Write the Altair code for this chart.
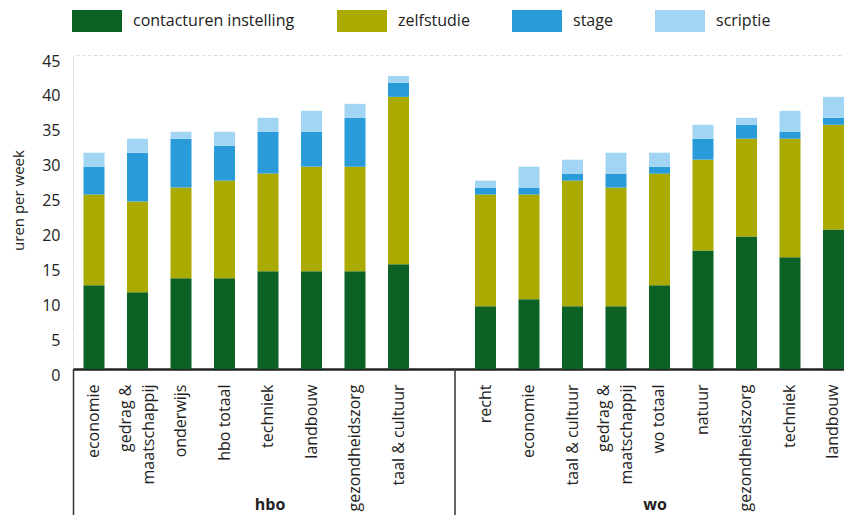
import altair as alt
import pandas as pd

series = ["contacturen instelling", "zelfstudie", "stage", "scriptie"]
colors = ["#0c6124", "#aaaa00", "#289bd8", "#a1d5f3"]

hbo_cats = ["economie", "gedrag &\nmaatschappij", "onderwijs", "hbo totaal", "techniek",
            "landbouw", "gezondheidszorg", "taal & cultuur"]
hbo_contact = [12, 11, 13, 13, 14, 14, 14, 15]
hbo_zelf = [13, 13, 13, 14, 14, 15, 15, 24]
hbo_stage = [4, 7, 7, 5, 6, 5, 7, 2]
hbo_scriptie = [2, 2, 1, 2, 2, 3, 2, 1]

wo_cats = ["recht", "economie", "taal & cultuur", "gedrag &\nmaatschappij", "wo totaal",
           "natuur", "gezondheidszorg", "techniek", "landbouw"]
wo_contact = [9, 10, 9, 9, 12, 17, 19, 16, 20]
wo_zelf = [16, 15, 18, 17, 16, 13, 14, 17, 15]
wo_stage = [1, 1, 1, 2, 1, 3, 2, 1, 1]
wo_scriptie = [1, 3, 2, 3, 2, 2, 1, 3, 3]

rows = []
for grp, cats, vals in [("hbo", hbo_cats, [hbo_contact, hbo_zelf, hbo_stage, hbo_scriptie]),
                        ("wo", wo_cats, [wo_contact, wo_zelf, wo_stage, wo_scriptie])]:
    for i, c in enumerate(cats):
        for k, s in enumerate(series):
            rows.append({"key": f"{grp}:{c}", "serie": s, "o": k, "uren": vals[k][i]})
df = pd.DataFrame(rows)

domain = [f"hbo:{c}" for c in hbo_cats] + ["gap:"] + [f"wo:{c}" for c in wo_cats]

W, H = 771, 314
BOTTOM = 146
FONT = "Open Sans"

bars = alt.Chart(df).mark_bar().encode(
    x=alt.X("key:N", sort=domain,
            scale=alt.Scale(domain=domain, paddingInner=0.5172, paddingOuter=0.1207, align=1, round=False),
            axis=alt.Axis(title=None, labelAngle=270, labelAlign="right", labelBaseline="middle",
                          labelPadding=15, labelFontSize=16, labelColor="#222", labelLimit=300,
                          labelOverlap=False, labelLineHeight=23, ticks=False,
                          labelOffset={"condition": {"test": "indexof(datum.value, '\\n') >= 0", "value": -11.5},
                                       "value": 0},
                          domainColor="#222", domainWidth=2.5,
                          labelExpr="split(slice(datum.label, indexof(datum.label, ':') + 1), '\\n')")),
    y=alt.Y("uren:Q", stack="zero",
            scale=alt.Scale(domain=[0, 45], nice=False),
            axis=alt.Axis(title="uren per week", values=list(range(0, 46, 5)), ticks=False, domain=False,
                          grid=True, gridColor="white", gridDash=[2.5, 3.5], gridWidth=2.5,
                          labelFontSize=16, labelColor="#222", labelPadding=13, labelOffset=6,
                          titleFontSize=15, titleFontWeight="normal", titleColor="#222",
                          titleX=-55, titleY=145, titleAlign="center", titleBaseline="middle")),
    color=alt.Color("serie:N", sort=series, scale=alt.Scale(domain=series, range=colors),
                    legend=alt.Legend(title=None, orient="none", legendX=-1, legendY=-59,
                                      direction="horizontal", columns=4, columnPadding=42,
                                      symbolType="M-1,-0.44L1,-0.44L1,0.44L-1,0.44Z",
                                      symbolSize=2500, symbolStrokeWidth=0, symbolOpacity=1,
                                      labelFontSize=16, labelColor="#222", labelOffset=11,
                                      labelLimit=300)),
    order=alt.Order("o:Q", sort="ascending"),
)

lines_df = pd.DataFrame({"pos": ["left", "divider"]})
left_line = alt.Chart(lines_df.iloc[[0]]).mark_rule(color="#333", strokeWidth=1.5).encode(
    x=alt.value(0.5), y=alt.value(H), y2=alt.value(H + BOTTOM))
div_line = alt.Chart(lines_df.iloc[[1]]).mark_rule(color="#333", strokeWidth=1.5).encode(
    x=alt.value(382), y=alt.value(H), y2=alt.value(H + BOTTOM))

groups = ["hbo", "wo"]
hbo_lbl = alt.Chart(pd.DataFrame({"g": [groups[0]]})).mark_text(
    font=FONT, fontSize=16, fontWeight="bold", color="#222", baseline="bottom").encode(
    text="g:N", x=alt.value(197), y=alt.value(H + BOTTOM - 2))
wo_lbl = alt.Chart(pd.DataFrame({"g": [groups[1]]})).mark_text(
    font=FONT, fontSize=16, fontWeight="bold", color="#222", baseline="bottom").encode(
    text="g:N", x=alt.value(582), y=alt.value(H + BOTTOM - 2))

chart = alt.layer(bars, left_line, div_line, hbo_lbl, wo_lbl).properties(
    width=W, height=H,
    autosize=alt.AutoSizeParams(type="none"),
    padding={"left": 65, "top": 47, "right": 0, "bottom": BOTTOM},
).configure_view(fill="#dcedfb", stroke=None).configure(font=FONT)

chart.save("out.html", embed_options={"renderer": "svg", "actions": False})
